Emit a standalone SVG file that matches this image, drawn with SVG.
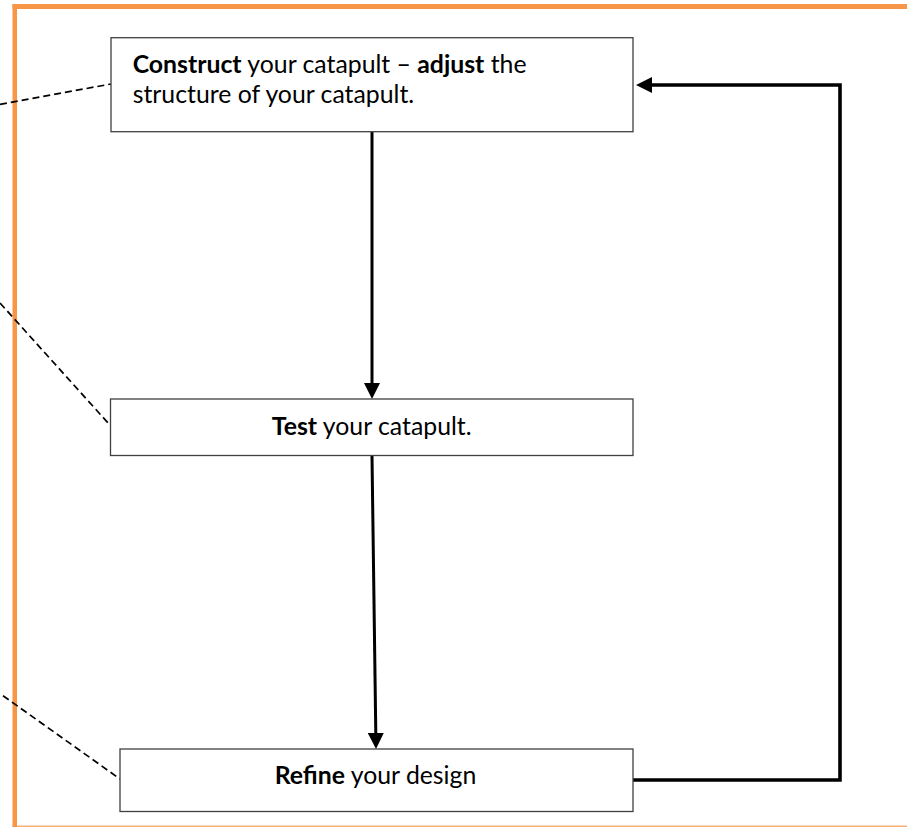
<svg xmlns="http://www.w3.org/2000/svg" width="907" height="827" viewBox="0 0 907 827">
  <style>
    .frame { stroke: #F79646; fill: none; }
    .box { fill: #ffffff; stroke: #404040; stroke-width: 1.3; }
    .lbl { font-family: Lato, "Liberation Sans", sans-serif; font-size: 24.8px; fill: #000000; }
    .b { font-weight: bold; }
    .dash { stroke: #000000; stroke-width: 1.7; stroke-dasharray: 7 4; fill: none; }
    .arr { stroke: #000000; stroke-width: 3; fill: none; }
    .arrb { stroke: #000000; stroke-width: 3.6; fill: none; stroke-linejoin: miter; }
  </style>
  <defs>
    <marker id="head" viewBox="0 0 16 16" refX="0" refY="8" markerWidth="16" markerHeight="16" markerUnits="userSpaceOnUse" orient="auto">
      <path d="M0,0 L16,8 L0,16 z" fill="#000000"/>
    </marker>
  </defs>
  <rect width="907" height="827" fill="#ffffff"/>
  <g id="frame">
    <line class="frame" x1="12.5" y1="6.5" x2="907" y2="6.5" stroke-width="5"/>
    <line class="frame" x1="14.75" y1="4" x2="14.75" y2="827" stroke-width="4.5"/>
    <line class="frame" x1="12.5" y1="826.2" x2="907" y2="826.2" stroke-width="1.6" stroke-opacity="0.75"/>
  </g>
  <g id="connectors">
    <line class="dash" x1="0" y1="104.3" x2="111" y2="84"/>
    <line class="dash" x1="0" y1="303" x2="110.5" y2="425.7"/>
    <line class="dash" x1="3" y1="695.7" x2="120" y2="779"/>
    <line class="arr" x1="372" y1="132" x2="372" y2="383" marker-end="url(#head)"/>
    <line class="arr" x1="372" y1="456" x2="375.8" y2="733" marker-end="url(#head)"/>
    <polyline class="arrb" points="633,780 840,780 840,85 652,85" marker-end="url(#head)"/>
  </g>
  <g id="node-construct">
    <rect class="box" x="111" y="37.7" width="522" height="94"/>
    <text class="lbl" x="132.7" y="73"><tspan class="b">Construct</tspan> your catapult – <tspan class="b">adjust</tspan> the</text>
    <text class="lbl" x="132.7" y="103">structure of your catapult.</text>
  </g>
  <g id="node-test">
    <rect class="box" x="110.5" y="399" width="522.5" height="56.5"/>
    <text class="lbl" x="371.7" y="435" text-anchor="middle"><tspan class="b">Test</tspan> your catapult.</text>
  </g>
  <g id="node-refine">
    <rect class="box" x="120" y="749" width="513" height="62.5"/>
    <text class="lbl" x="375.5" y="784.3" text-anchor="middle"><tspan class="b">Refine</tspan> your design</text>
  </g>
</svg>
